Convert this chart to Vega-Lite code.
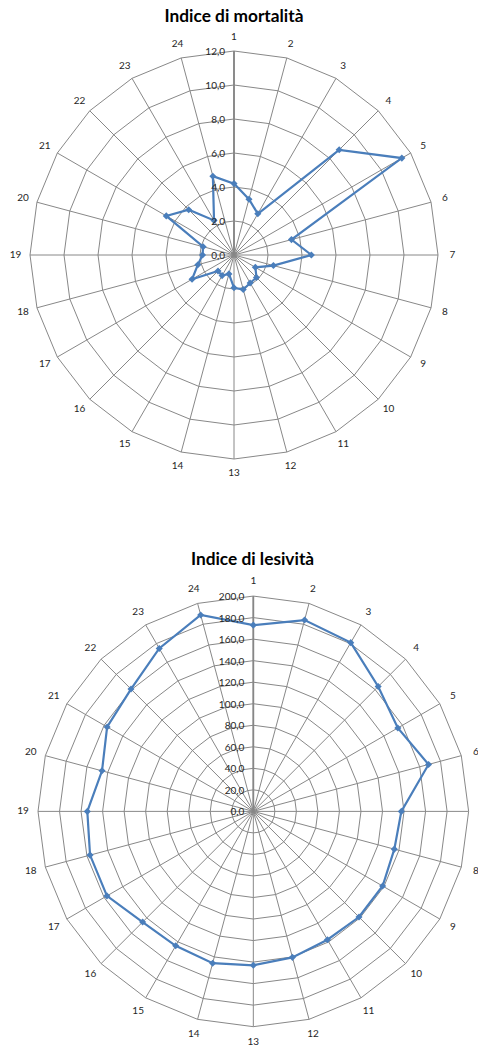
{
  "$schema": "https://vega.github.io/schema/vega-lite/v6.json",
  "padding": {"top": 8, "left": 0, "right": 0, "bottom": 0},
  "spacing": 43.7,
  "config": {"view": {"stroke": null}, "text": {"font": "Lato"}, "title": {"font": "Lato"}},
  "datasets": {
    "dati": [
      {"ora": 1, "mortalita": 4.2, "lesivita": 173.0},
      {"ora": 2, "mortalita": 3.4, "lesivita": 184.0},
      {"ora": 3, "mortalita": 2.8, "lesivita": 181.0},
      {"ora": 4, "mortalita": 8.75, "lesivita": 164.0},
      {"ora": 5, "mortalita": 11.4, "lesivita": 155.0},
      {"ora": 6, "mortalita": 3.5, "lesivita": 168.5},
      {"ora": 7, "mortalita": 4.55, "lesivita": 137.5},
      {"ora": 8, "mortalita": 2.4, "lesivita": 135.6},
      {"ora": 9, "mortalita": 1.45, "lesivita": 138.7},
      {"ora": 10, "mortalita": 1.87, "lesivita": 138.8},
      {"ora": 11, "mortalita": 1.9, "lesivita": 137.7},
      {"ora": 12, "mortalita": 2.1, "lesivita": 140.4},
      {"ora": 13, "mortalita": 1.93, "lesivita": 143.0},
      {"ora": 14, "mortalita": 1.15, "lesivita": 146.0},
      {"ora": 15, "mortalita": 1.4, "lesivita": 144.2},
      {"ora": 16, "mortalita": 1.33, "lesivita": 145.4},
      {"ora": 17, "mortalita": 2.85, "lesivita": 157.0},
      {"ora": 18, "mortalita": 2.2, "lesivita": 157.0},
      {"ora": 19, "mortalita": 1.85, "lesivita": 154.2},
      {"ora": 20, "mortalita": 1.88, "lesivita": 145.5},
      {"ora": 21, "mortalita": 4.6, "lesivita": 156.8},
      {"ora": 22, "mortalita": 3.77, "lesivita": 160.7},
      {"ora": 23, "mortalita": 2.35, "lesivita": 174.8},
      {"ora": 24, "mortalita": 4.8, "lesivita": 188.9}
    ]
  },
  "resolve": {"scale": {"x": "independent", "y": "independent"}},
  "vconcat": [
    {
      "width": 478,
      "height": 480,
      "title": {"text": "Indice di mortalità", "fontSize": 17.3, "fontWeight": "bold", "color": "#000000", "anchor": "middle", "dx": -5, "offset": 1.5},
      "data": {"name": "dati"},
      "transform": [{"calculate": "(datum.ora - 1) * PI / 12", "as": "ang"}],
      "layer": [
        {
          "transform": [
            {"calculate": "[2, 4, 6, 8, 10, 12]", "as": "livello"},
            {"flatten": ["livello"]},
            {"calculate": "datum.livello * sin(datum.ang)", "as": "gx"},
            {"calculate": "datum.livello * cos(datum.ang)", "as": "gy"}
          ],
          "mark": {"type": "line", "interpolate": "linear-closed", "color": "#888888", "strokeWidth": 1},
          "encoding": {
            "x": {"field": "gx", "type": "quantitative", "scale": {"domain": [-13.7647, 14.3529], "nice": false, "zero": false}, "axis": null},
            "y": {"field": "gy", "type": "quantitative", "scale": {"domain": [-14.8235, 13.4118], "nice": false, "zero": false}, "axis": null},
            "detail": {"field": "livello", "type": "nominal"},
            "order": {"field": "ora", "type": "quantitative"}
          }
        },
        {
          "transform": [
            {"calculate": "12 * sin(datum.ang)", "as": "ex"},
            {"calculate": "12 * cos(datum.ang)", "as": "ey"}
          ],
          "mark": {"type": "rule", "color": "#888888", "strokeWidth": 1},
          "encoding": {
            "x": {"field": "ex", "type": "quantitative"},
            "y": {"field": "ey", "type": "quantitative"},
            "x2": {"datum": 0},
            "y2": {"datum": 0}
          }
        },
        {
          "transform": [
            {"filter": "datum.ora == 1"},
            {"calculate": "12 * sin(datum.ang)", "as": "ex"},
            {"calculate": "12 * cos(datum.ang)", "as": "ey"}
          ],
          "mark": {"type": "rule", "color": "#868686", "strokeWidth": 1.8},
          "encoding": {
            "x": {"field": "ex", "type": "quantitative"},
            "y": {"field": "ey", "type": "quantitative"},
            "x2": {"datum": 0},
            "y2": {"datum": 0}
          }
        },
        {
          "transform": [
            {"calculate": "datum.mortalita * sin(datum.ang)", "as": "vx"},
            {"calculate": "datum.mortalita * cos(datum.ang)", "as": "vy"}
          ],
          "mark": {"type": "line", "interpolate": "linear-closed", "color": "#4A7EBB", "strokeWidth": 2.2},
          "encoding": {
            "x": {"field": "vx", "type": "quantitative"},
            "y": {"field": "vy", "type": "quantitative"},
            "order": {"field": "ora", "type": "quantitative"}
          }
        },
        {
          "transform": [
            {"calculate": "datum.mortalita * sin(datum.ang)", "as": "vx"},
            {"calculate": "datum.mortalita * cos(datum.ang)", "as": "vy"}
          ],
          "mark": {"type": "point", "shape": "diamond", "filled": true, "size": 50, "color": "#4A7EBB", "opacity": 1},
          "encoding": {
            "x": {"field": "vx", "type": "quantitative"},
            "y": {"field": "vy", "type": "quantitative"}
          }
        },
        {
          "transform": [
            {"calculate": "12.85 * sin(datum.ang)", "as": "lx"},
            {"calculate": "12.85 * cos(datum.ang)", "as": "ly"}
          ],
          "mark": {"type": "text", "fontSize": 10, "color": "#262626", "align": "center", "baseline": "middle"},
          "encoding": {
            "x": {"field": "lx", "type": "quantitative"},
            "y": {"field": "ly", "type": "quantitative"},
            "text": {"field": "ora", "type": "nominal"}
          }
        },
        {
          "transform": [
            {"filter": "datum.ora == 1"},
            {"calculate": "[0, 2, 4, 6, 8, 10, 12]", "as": "livello"},
            {"flatten": ["livello"]},
            {"calculate": "replace(format(datum.livello, '.1f'), '.', ',')", "as": "etichetta"}
          ],
          "mark": {"type": "text", "fontSize": 10, "color": "#262626", "align": "right", "baseline": "middle", "dx": -9, "dy": 1},
          "encoding": {
            "x": {"datum": 0, "type": "quantitative"},
            "y": {"field": "livello", "type": "quantitative"},
            "text": {"field": "etichetta", "type": "nominal"}
          }
        }
      ]
    },
    {
      "width": 478,
      "height": 477,
      "title": {"text": "Indice di lesività", "fontSize": 17.3, "fontWeight": "bold", "color": "#000000", "anchor": "middle", "dx": 13.5, "offset": 1.5},
      "data": {"name": "dati"},
      "transform": [{"calculate": "(datum.ora - 1) * PI / 12", "as": "ang"}],
      "layer": [
        {
          "transform": [
            {"calculate": "[20, 40, 60, 80, 100, 120, 140, 160, 180, 200]", "as": "livello"},
            {"flatten": ["livello"]},
            {"calculate": "datum.livello * sin(datum.ang)", "as": "gx"},
            {"calculate": "datum.livello * cos(datum.ang)", "as": "gy"}
          ],
          "mark": {"type": "line", "interpolate": "linear-closed", "color": "#888888", "strokeWidth": 1},
          "encoding": {
            "x": {"field": "gx", "type": "quantitative", "scale": {"domain": [-235.3, 208.7], "nice": false, "zero": false}, "axis": null},
            "y": {"field": "gy", "type": "quantitative", "scale": {"domain": [-218.6, 224.5], "nice": false, "zero": false}, "axis": null},
            "detail": {"field": "livello", "type": "nominal"},
            "order": {"field": "ora", "type": "quantitative"}
          }
        },
        {
          "transform": [
            {"calculate": "200 * sin(datum.ang)", "as": "ex"},
            {"calculate": "200 * cos(datum.ang)", "as": "ey"}
          ],
          "mark": {"type": "rule", "color": "#888888", "strokeWidth": 1},
          "encoding": {
            "x": {"field": "ex", "type": "quantitative"},
            "y": {"field": "ey", "type": "quantitative"},
            "x2": {"datum": 0},
            "y2": {"datum": 0}
          }
        },
        {
          "transform": [
            {"filter": "datum.ora == 1"},
            {"calculate": "200 * sin(datum.ang)", "as": "ex"},
            {"calculate": "200 * cos(datum.ang)", "as": "ey"}
          ],
          "mark": {"type": "rule", "color": "#868686", "strokeWidth": 1.8},
          "encoding": {
            "x": {"field": "ex", "type": "quantitative"},
            "y": {"field": "ey", "type": "quantitative"},
            "x2": {"datum": 0},
            "y2": {"datum": 0}
          }
        },
        {
          "transform": [
            {"calculate": "datum.lesivita * sin(datum.ang)", "as": "vx"},
            {"calculate": "datum.lesivita * cos(datum.ang)", "as": "vy"}
          ],
          "mark": {"type": "line", "interpolate": "linear-closed", "color": "#4A7EBB", "strokeWidth": 2.2},
          "encoding": {
            "x": {"field": "vx", "type": "quantitative"},
            "y": {"field": "vy", "type": "quantitative"},
            "order": {"field": "ora", "type": "quantitative"}
          }
        },
        {
          "transform": [
            {"calculate": "datum.lesivita * sin(datum.ang)", "as": "vx"},
            {"calculate": "datum.lesivita * cos(datum.ang)", "as": "vy"}
          ],
          "mark": {"type": "point", "shape": "diamond", "filled": true, "size": 50, "color": "#4A7EBB", "opacity": 1},
          "encoding": {
            "x": {"field": "vx", "type": "quantitative"},
            "y": {"field": "vy", "type": "quantitative"}
          }
        },
        {
          "transform": [
            {"calculate": "214 * sin(datum.ang)", "as": "lx"},
            {"calculate": "214 * cos(datum.ang)", "as": "ly"}
          ],
          "mark": {"type": "text", "fontSize": 10, "color": "#262626", "align": "center", "baseline": "middle", "clip": true},
          "encoding": {
            "x": {"field": "lx", "type": "quantitative"},
            "y": {"field": "ly", "type": "quantitative"},
            "text": {"field": "ora", "type": "nominal"}
          }
        },
        {
          "transform": [
            {"filter": "datum.ora == 1"},
            {"calculate": "[0, 20, 40, 60, 80, 100, 120, 140, 160, 180, 200]", "as": "livello"},
            {"flatten": ["livello"]},
            {"calculate": "replace(format(datum.livello, '.1f'), '.', ',')", "as": "etichetta"}
          ],
          "mark": {"type": "text", "fontSize": 10, "color": "#262626", "align": "right", "baseline": "middle", "dx": -9, "dy": 1},
          "encoding": {
            "x": {"datum": 0, "type": "quantitative"},
            "y": {"field": "livello", "type": "quantitative"},
            "text": {"field": "etichetta", "type": "nominal"}
          }
        }
      ]
    }
  ]
}
